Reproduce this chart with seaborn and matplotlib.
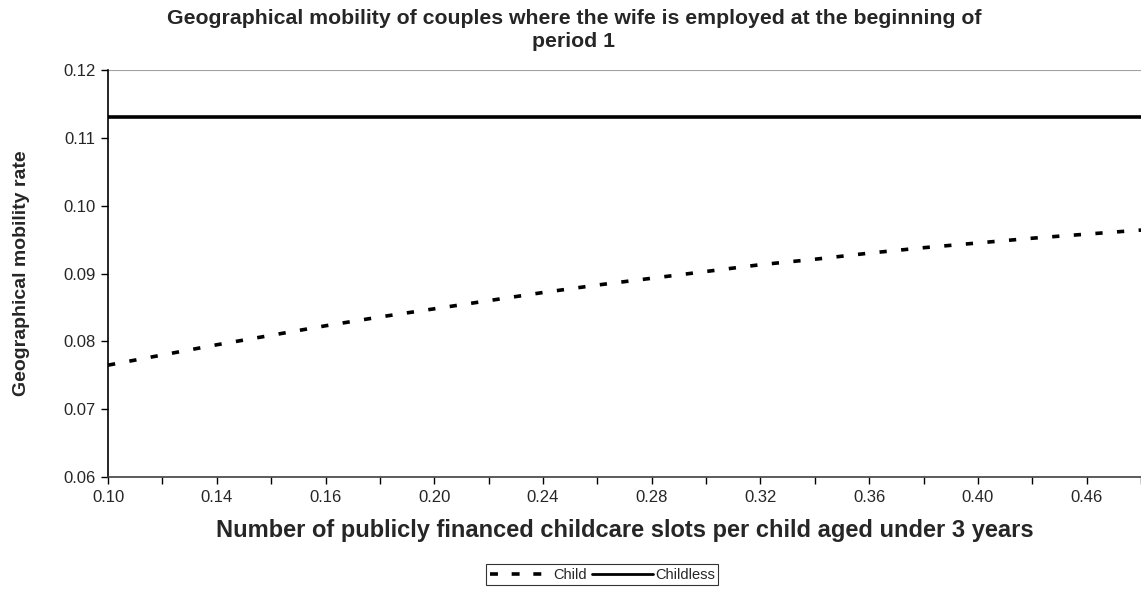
import numpy as np
import pandas as pd
import matplotlib
matplotlib.use("Agg")
import matplotlib.pyplot as plt
import seaborn as sns

# -------------------------
# DATA
# -------------------------

# childcare slots per child (category axis, only every other one labelled)
slots = ["0.10", "0.12", "0.14", "0.15", "0.16", "0.18", "0.20", "0.22", "0.24", "0.26",
         "0.28", "0.30", "0.32", "0.34", "0.36", "0.38", "0.40", "0.43", "0.46", "0.48"]
child = [0.0765, 0.0780, 0.0795, 0.0809, 0.0823, 0.0836, 0.0848, 0.0860, 0.0872, 0.0883,
         0.0893, 0.0903, 0.0913, 0.0921, 0.0930, 0.0938, 0.0945, 0.0952, 0.0958, 0.0964]
childless = [0.113] * len(slots)
y_ticks = [0.06, 0.07, 0.08, 0.09, 0.10, 0.11, 0.12]

df = pd.DataFrame({
    "pos": list(range(len(slots))) * 2,
    "rate": child + childless,
    "group": ["Child"] * len(slots) + ["Childless"] * len(slots),
})

# -------------------------
# STYLE
# -------------------------

sns.set_style("white")
plt.rcParams['font.family'] = ["Liberation Sans", "DejaVu Sans"]

fig = plt.figure(figsize=(11.41, 5.92), dpi=100)
ax = fig.add_axes([0.0947, 0.194, 0.9053, 0.688])

sns.lineplot(data=df, x="pos", y="rate", hue="group", style="group",
             palette={"Child": "black", "Childless": "black"},
             dashes={"Child": (2.0, 4.0), "Childless": ""},
             linewidth=2.6, legend=False, ax=ax)

ax.set_xlim(0, len(slots) - 1)
ax.set_ylim(0.06, 0.12)
ax.set_yticks(y_ticks)
ax.set_yticklabels([f"{v:.2f}" for v in y_ticks], fontsize=12)
ax.set_xticks(range(len(slots)))
ax.set_xticklabels([s if i % 2 == 0 else "" for i, s in enumerate(slots)], fontsize=12)
ax.tick_params(axis="both", direction="out", length=5, width=1, color="black",
               bottom=True, left=True, pad=4)

# top border behaves like the 0.12 gridline
ax.axhline(0.12, color="#a0a0a0", linewidth=1.5, zorder=1)
for side in ["top", "right"]:
    ax.spines[side].set_visible(False)
ax.spines["left"].set_color("black")
ax.spines["bottom"].set_color("#404040")
ax.spines["left"].set_linewidth(1.2)
ax.spines["bottom"].set_linewidth(1.2)

ax.set_xlabel("Number of publicly financed childcare slots per child aged under 3 years",
              fontsize=17, fontweight="bold", labelpad=10)
ax.set_ylabel("Geographical mobility rate", fontsize=14, fontweight="bold", labelpad=24)

fig.text(0.503, 0.984, "Geographical mobility of couples where the wife is employed at the beginning of\nperiod 1",
         ha="center", va="top", fontsize=15.3, fontweight="bold", linespacing=1.25)

handles = [plt.Line2D([], [], color="black", linewidth=2.6, dashes=(2.2, 3.8), dash_capstyle="butt"),
           plt.Line2D([], [], color="black", linewidth=2.0)]
leg = fig.legend(handles, ["Child", "Childless"], loc="center", ncol=2,
                 bbox_to_anchor=(0.528, 0.029), fontsize=10.5, frameon=True,
                 fancybox=False, handlelength=4.2, handletextpad=0.1,
                 columnspacing=0.4, borderpad=0.25)
leg.get_frame().set_edgecolor("black")
leg.get_frame().set_linewidth(0.8)

fig.savefig("out.png", dpi=100)
